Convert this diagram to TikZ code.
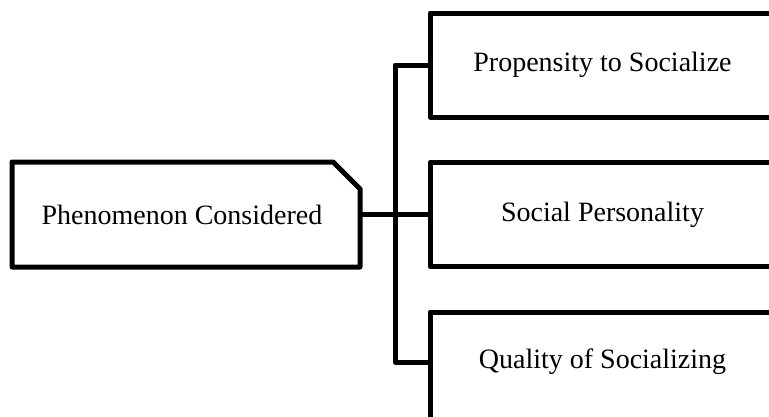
\documentclass[tikz,border=0pt]{standalone}
\usepackage{fontspec}
\setmainfont{Liberation Serif}
\usetikzlibrary{shapes.misc}
\begin{document}
\begin{tikzpicture}[x=1pt,y=-1pt,
  boxline/.style={draw=black,line width=5pt,line join=round},
  catbox/.style={boxline,rectangle,minimum width=345pt,minimum height=104pt,inner sep=0pt,outer sep=0pt},
  conn/.style={draw=black,line width=5pt,line join=round},
  every node/.style={font=\fontsize{28}{32}\selectfont}]
\useasboundingbox (0,0) rectangle (769,416);
\clip (0,0) rectangle (769,416);
% left box with chamfered corner
\node[boxline,chamfered rectangle,chamfered rectangle corners=north east,
      chamfered rectangle sep=17pt,minimum width=348pt,minimum height=105pt,
      inner sep=0pt,outer sep=0pt] (left) at (186,214.5) {\hspace*{-8pt}Phenomenon Considered};
% right boxes
\node[catbox] (top) at (602.5,65) {Propensity to Socialize};
\node[catbox] (mid) at (602.5,214.5) {Social Personality};
\node[catbox,minimum height=108pt,label={[yshift=4pt]center:Quality of Socializing}] (bot) at (602.5,366) {};
\coordinate (bus) at (395,0);
% connectors
\draw[conn] (top.west) -- (top.west -| bus) -- ([yshift=4pt]bot.west -| bus) -- ([yshift=4pt]bot.west);
\draw[conn] (left.east) -- (mid.west);
\end{tikzpicture}
\end{document}
